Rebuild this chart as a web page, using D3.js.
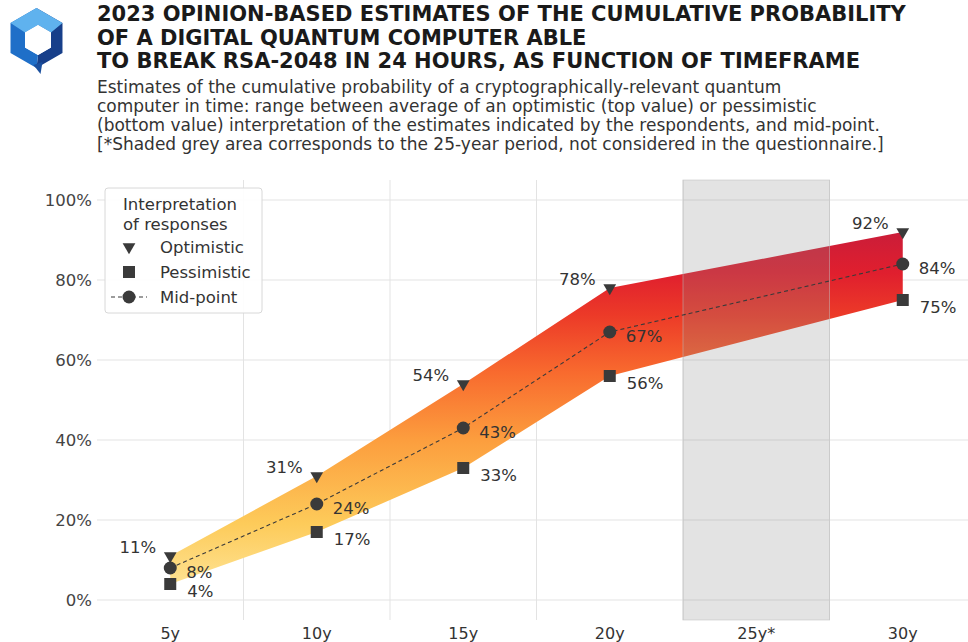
<!DOCTYPE html>
<html><head><meta charset="utf-8">
<script src="https://cdn.jsdelivr.net/npm/d3@7"></script>
<style>
html,body{margin:0;padding:0;background:#fff;}
svg{display:block;font-family:"DejaVu Sans",sans-serif;}
</style></head>
<body>
<svg id="chart" width="968" height="642"></svg>
<script>
// ---- data ----
const categories = ["5y", "10y", "15y", "20y", "25y*", "30y"];
const seriesCats = ["5y", "10y", "15y", "20y", "30y"];
const optimistic = [11, 31, 54, 78, 92];
const pessimistic = [4, 17, 33, 56, 75];
const midpoint = [8, 24, 43, 67, 84];
const yTicks = [0, 20, 40, 60, 80, 100];
const shadedCategory = "25y*";
const titleLines = [
  "2023 OPINION-BASED ESTIMATES OF THE CUMULATIVE PROBABILITY",
  "OF A DIGITAL QUANTUM COMPUTER ABLE",
  "TO BREAK RSA-2048 IN 24 HOURS, AS FUNCTION OF TIMEFRAME"
];
const subtitleLines = [
  "Estimates of the cumulative probability of a cryptographically-relevant quantum",
  "computer in time: range between average of an optimistic (top value) or pessimistic",
  "(bottom value) interpretation of the estimates indicated by the respondents, and mid-point.",
  "[*Shaded grey area corresponds to the 25-year period, not considered in the questionnaire.]"
];
const legendTitle = ["Interpretation", "of responses"];
const legendItems = ["Optimistic", "Pessimistic", "Mid-point"];

const rows = seriesCats.map((c, i) => ({cat: c, opt: optimistic[i], pes: pessimistic[i], mid: midpoint[i]}));

const svg = d3.select("#chart");
const W = 968, H = 642;
const plot = {left: 97, right: 976, top: 180, bottom: 620};

const x = d3.scalePoint().domain(categories).range([plot.left, plot.right]).padding(0.5);
const step = x.step();
const y = d3.scaleLinear().domain([-5, 105]).range([plot.bottom, plot.top]);

const defs = svg.append("defs");

// gradient (vertical by value)
const grad = defs.append("linearGradient").attr("id", "areaGrad")
  .attr("gradientUnits", "userSpaceOnUse")
  .attr("x1", 0).attr("x2", 0).attr("y1", y(0)).attr("y2", y(95));
[[0, "#fee8a0"], [0.2, "#fdcb5a"], [0.42, "#fc9e3e"], [0.6, "#f86a2e"], [0.75, "#ec3a28"], [0.86, "#e01f2e"], [1, "#c41c3c"]]
  .forEach(([o, c]) => grad.append("stop").attr("offset", o).attr("stop-color", c));

// ---- grid ----
const g = svg.append("g");
g.selectAll(".hgrid").data(yTicks).join("line")
  .attr("x1", plot.left).attr("x2", W)
  .attr("y1", d => y(d)).attr("y2", d => y(d))
  .attr("stroke", "#e3e3e3").attr("stroke-width", 1);
const boundaries = categories.slice(0, -1).map(c => x(c) + step / 2);
g.selectAll(".vgrid").data(boundaries).join("line")
  .attr("x1", d => d).attr("x2", d => d)
  .attr("y1", plot.top).attr("y2", plot.bottom)
  .attr("stroke", "#e3e3e3").attr("stroke-width", 1);

// ---- area ----
const area = d3.area().x(d => x(d.cat)).y0(d => y(d.pes)).y1(d => y(d.opt));
g.append("path").datum(rows).attr("d", area).attr("fill", "url(#areaGrad)");

// ---- shaded grey box ----
g.append("rect")
  .attr("x", x(shadedCategory) - step / 2).attr("width", step)
  .attr("y", plot.top).attr("height", plot.bottom - plot.top)
  .attr("fill", "#8c8c8c").attr("fill-opacity", 0.24)
  .attr("stroke", "#bdbdbd").attr("stroke-opacity", 0.5);

// ---- midpoint dashed line ----
const line = d3.line().x(d => x(d.cat)).y(d => y(d.mid));
g.append("path").datum(rows).attr("d", line)
  .attr("fill", "none").attr("stroke", "#3a3a3a").attr("stroke-width", 1.1)
  .attr("stroke-dasharray", "4,3");

const mk = "#3a3a3a";
const tri = d3.symbol().type(d3.symbolTriangle).size(70);
// markers
g.selectAll(".opt").data(rows).join("path")
  .attr("d", tri)
  .attr("transform", d => `translate(${x(d.cat)},${y(d.opt)}) rotate(180)`)
  .attr("fill", mk);
g.selectAll(".pes").data(rows).join("rect")
  .attr("x", d => x(d.cat) - 6).attr("y", d => y(d.pes) - 6)
  .attr("width", 12).attr("height", 12).attr("fill", mk);
g.selectAll(".mid").data(rows).join("circle")
  .attr("cx", d => x(d.cat)).attr("cy", d => y(d.mid)).attr("r", 6.5).attr("fill", mk);

// labels
const lblFont = 16.5, lblCol = "#333";
g.selectAll(".optl").data(rows).join("text")
  .attr("x", d => x(d.cat) - 14).attr("y", d => y(d.opt) - 3)
  .attr("text-anchor", "end").attr("font-size", lblFont).attr("fill", lblCol)
  .text(d => d.opt + "%");
g.selectAll(".midl").data(rows).join("text")
  .attr("x", d => x(d.cat) + 16).attr("y", d => y(d.mid) + 10)
  .attr("font-size", lblFont).attr("fill", lblCol)
  .text(d => d.mid + "%");
g.selectAll(".pesl").data(rows).join("text")
  .attr("x", d => x(d.cat) + 17).attr("y", d => y(d.pes) + 13)
  .attr("font-size", lblFont).attr("fill", lblCol)
  .text(d => d.pes + "%");

// ---- axes labels ----
g.selectAll(".ytl").data(yTicks).join("text")
  .attr("x", 92).attr("y", d => y(d) + 6)
  .attr("text-anchor", "end").attr("font-size", 16.5).attr("fill", "#444")
  .text(d => d + "%");
g.selectAll(".xtl").data(categories).join("text")
  .attr("x", d => x(d)).attr("y", 639)
  .attr("text-anchor", "middle").attr("font-size", 16).attr("fill", "#333")
  .text(d => d);

// ---- legend ----
const lg = svg.append("g").attr("transform", "translate(105,188)");
lg.append("rect").attr("width", 157).attr("height", 125).attr("rx", 3)
  .attr("fill", "#fff").attr("fill-opacity", 0.9).attr("stroke", "#d8d8d8");
lg.selectAll(".lt").data(legendTitle).join("text")
  .attr("x", 18).attr("y", (d, i) => 22 + i * 20)
  .attr("font-size", 16.5).attr("fill", "#333").text(d => d);
const iy = [59, 84, 109];
lg.selectAll(".li").data(legendItems).join("text")
  .attr("x", 55).attr("y", (d, i) => iy[i] + 6)
  .attr("font-size", 16.5).attr("fill", "#333").text(d => d);
lg.append("path").attr("d", tri).attr("transform", `translate(24,${iy[0]}) rotate(180)`).attr("fill", mk);
lg.append("rect").attr("x", 18).attr("y", iy[1] - 6).attr("width", 12).attr("height", 12).attr("fill", mk);
lg.append("line").attr("x1", 6).attr("x2", 42).attr("y1", iy[2]).attr("y2", iy[2])
  .attr("stroke", mk).attr("stroke-dasharray", "4,3").attr("stroke-width", 1.1);
lg.append("circle").attr("cx", 24).attr("cy", iy[2]).attr("r", 6.5).attr("fill", mk);

// ---- title & subtitle ----
svg.selectAll(".title").data(titleLines).join("text")
  .attr("x", 97).attr("y", (d, i) => 21 + i * 23.5)
  .attr("font-size", 21).attr("font-weight", "bold").attr("fill", "#1a1a1a")
  .text(d => d);
svg.selectAll(".sub").data(subtitleLines).join("text")
  .attr("x", 97).attr("y", (d, i) => 93 + i * 19)
  .attr("font-size", 17).attr("fill", "#333")
  .text(d => d);

// ---- logo ----
const logo = svg.append("g");
const cx = 36.5, cy = 38, R = 30, r = 15;
const hex = (rr, ox, oy) => d3.range(6).map(k => {
  const a = Math.PI / 180 * (60 * k - 90);
  return [ox + rr * Math.cos(a), oy + rr * Math.sin(a)];
});
const O = hex(R, cx, cy), I = hex(r, cx + 1.5, cy + 2);
const poly = pts => "M" + pts.map(p => p.join(",")).join("L") + "Z";
// right face (dark)
logo.append("path").attr("d", poly([O[0], O[1], O[2], O[3], I[3], I[2], I[1], I[0]])).attr("fill", "#173f8a");
// left face (medium)
logo.append("path").attr("d", poly([O[3], O[4], O[5], O[0], I[0], I[5], I[4], I[3]])).attr("fill", "#1f6fc8");
// top face (light)
logo.append("path").attr("d", poly([O[5], O[0], O[1], I[1], I[0], I[5]])).attr("fill", "#5fb2ee");
// inner white
logo.append("path").attr("d", poly(I)).attr("fill", "#fff");
// tail
logo.append("path").attr("d", poly([[O[3][0] - 3, O[3][1] - 3], [O[3][0] + 6, O[3][1] - 6], [O[3][0] + 4, O[3][1] + 6]])).attr("fill", "#1a4f9e");
</script>
</body></html>
